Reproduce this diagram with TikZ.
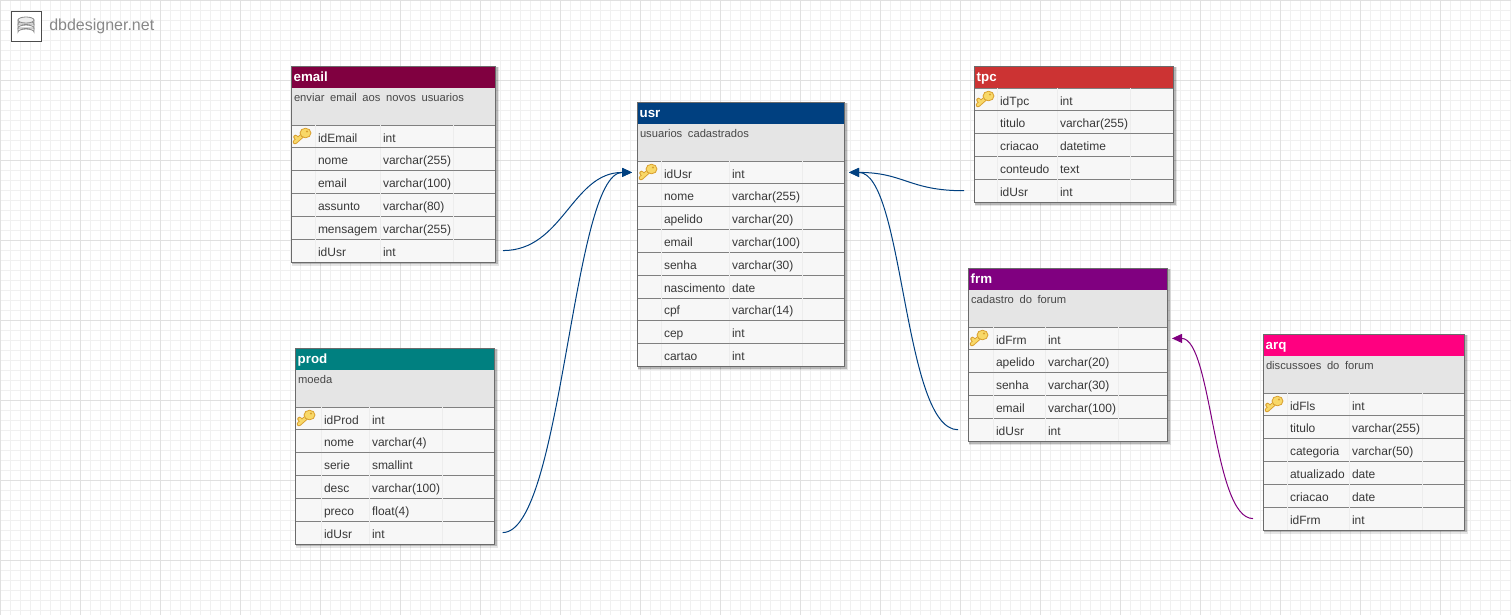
\documentclass[tikz,border=0pt]{standalone}
\usepackage{fontspec}
\setmainfont{Liberation Sans}
\newfontfamily\descfont[WordSpace=1.8]{Liberation Sans}
\usetikzlibrary{arrows.meta,positioning}
\definecolor{emailcol}{HTML}{800040}
\definecolor{usrcol}{HTML}{004080}
\definecolor{tpccol}{HTML}{CC3333}
\definecolor{frmcol}{HTML}{800080}
\definecolor{prodcol}{HTML}{008080}
\definecolor{arqcol}{HTML}{FF0080}
\definecolor{keyline}{HTML}{D9A030}
\definecolor{keyfill}{HTML}{F8D868}
\tikzset{
  headbox/.style={anchor=north west,inner sep=2pt,outer sep=0pt,minimum height=22*.75pt,text height=8.5pt,text depth=2.5pt,text=white,font=\bfseries\fontsize{10}{12}\selectfont,align=left},
  descbox/.style={anchor=north west,inner sep=0pt,outer sep=0pt,fill=black!10,minimum height=37*.75pt},
  rowbox/.style={anchor=north west,inner sep=0pt,outer sep=0pt,fill=black!3,draw=black!50,line width=.6pt,minimum height=22.83*.75pt},
  celltext/.style={anchor=base west,inner sep=0pt,outer sep=0pt,text=black!78,font=\fontsize{9}{11}\selectfont},
  desctext/.style={anchor=base west,inner sep=0pt,outer sep=0pt,text=black!72,font=\descfont\fontsize{8.4}{11}\selectfont},
  rel/.style={-{Triangle[length=10*.75pt,width=9*.75pt]},line width=.75pt},
  dbkey/.pic={
    \draw[draw=keyline,line width=3.4pt,line cap=round] (-7,6)--(2,-2) (-4,3.5)--(-6.5,1);
    \draw[draw=keyfill,line width=2pt,line cap=round] (-7,6)--(2,-2) (-4,3.5)--(-6.5,1);
    \draw[draw=keyline,fill=keyfill,line width=.6pt] (3.5,-3) ellipse (5.5 and 4.8);
    \fill[keyline] (5,-4.5) circle (1.1);
  }
}
% one table: id, x, y, width, colour, title, description, number of rows
\newcommand{\dbhead}[8]{
  \def\dbid{#1}\def\dbx{#2}\def\dby{#3}\def\dbw{#4}
  \def\dbdesc{#7}
  \ifx\dbdesc\empty \def\dbdh{0}\else \def\dbdh{37}\fi
  \pgfmathsetmacro{\dbtop}{#3+22+\dbdh}
  \pgfmathsetmacro{\dbbot}{\dbtop+#8*22.83}
  \fill[black,opacity=.1] (#2+1,#3+1) rectangle (#2+#4+4,\dbbot+4);
  \fill[black,opacity=.2] (#2+1,#3+1) rectangle (#2+#4+2.5,\dbbot+2.5);
  \node[headbox,fill=#5,minimum width=#4*.75pt,text width=#4*.75pt-4pt] (#1) at (#2,#3) {#6};
  \ifx\dbdesc\empty\else
    \node[descbox,minimum width=#4*.75pt] (#1-desc) at (#2,#3+22) {};
    \node[desctext] (#1-info) at (#2+3,#3+35) {#7};
  \fi
}
% rows of the table: x of name, x of type, list
\newcommand{\dbrows}[3]{
  \foreach \rname/\rtype [count=\ri] in {#3} {
    \pgfmathsetmacro{\rtop}{\dbtop+(\ri-1)*22.83}
    \node[rowbox,minimum width=\dbw*.75pt] (\dbid-\ri) at (\dbx,\rtop) {};
    \draw[black!7,line width=.5pt] (#1-3,\rtop) --++(0,22.83) (#2-3,\rtop) --++(0,22.83) (#2+70,\rtop) --++(0,22.83);
    \node[celltext] (\dbid-\ri-n) at (#1,\rtop+17) {\rname};
    \node[celltext] (\dbid-\ri-t) at (#2,\rtop+17) {\rtype};
  }
  \draw[black!58,line width=.6pt] (\dbx,\dby) rectangle (\dbx+\dbw,\dbbot);
  \path (\dbx+11,\dbtop+11) pic {dbkey};
}
\begin{document}
\begin{tikzpicture}[x=.75pt,y=-.75pt]
\useasboundingbox (0,0) rectangle (1511,615);
\fill[white] (0,0) rectangle (1511,615);
\foreach \gx in {0,10,...,1510} \draw[black!6,line width=.5pt] (\gx,0) -- (\gx,615);
\foreach \gy in {0,10,...,610} \draw[black!6,line width=.5pt] (0,\gy) -- (1511,\gy);
\foreach \gx in {0,80,...,1510} \draw[black!12,line width=.5pt] (\gx,0) -- (\gx,615);
\foreach \gy in {0,80,...,610} \draw[black!12,line width=.5pt] (0,\gy) -- (1511,\gy);

% logo
\node[draw=black!70,fill=white,line width=.9pt,minimum size=30*.75pt,inner sep=0pt,anchor=north west] (logo) at (11,11) {};
\node[anchor=west,inner sep=0pt,text=black!47,font=\fontsize{12}{14}\selectfont] (site) at (49,26) {dbdesigner.net};
\foreach \cy in {32,28,24} {
  \draw[black!45,fill=black!7,line width=.6pt] (18,\cy) arc[start angle=180,end angle=360,x radius=8,y radius=3] -- (34,\cy-4) -- (18,\cy-4) -- cycle;
}
\draw[black!45,fill=black!7,line width=.6pt] (26,20) ellipse (8 and 3);

\dbhead{email}{291}{66}{204}{emailcol}{email}{enviar email aos novos usuarios}{6}
\dbrows{318}{383}{idEmail/int,nome/varchar(255),email/varchar(100),assunto/varchar(80),mensagem/varchar(255),idUsr/int}

\dbhead{usr}{637}{102}{207}{usrcol}{usr}{usuarios cadastrados}{9}
\dbrows{664}{732}{idUsr/int,nome/varchar(255),apelido/varchar(20),email/varchar(100),senha/varchar(30),nascimento/date,cpf/varchar(14),cep/int,cartao/int}

\dbhead{tpc}{974}{66}{199}{tpccol}{tpc}{}{5}
\dbrows{1000}{1060}{idTpc/int,titulo/varchar(255),criacao/datetime,conteudo/text,idUsr/int}

\dbhead{frm}{968}{268}{199}{frmcol}{frm}{cadastro do forum}{5}
\dbrows{996}{1048}{idFrm/int,apelido/varchar(20),senha/varchar(30),email/varchar(100),idUsr/int}

\dbhead{prod}{295}{348}{199}{prodcol}{prod}{moeda}{6}
\dbrows{324}{372}{idProd/int,nome/varchar(4),serie/smallint,desc/varchar(100),preco/float(4),idUsr/int}

\dbhead{arq}{1263}{334}{201}{arqcol}{arq}{discussoes do forum}{6}
\dbrows{1290}{1352}{idFls/int,titulo/varchar(255),categoria/varchar(50),atualizado/date,criacao/date,idFrm/int}

\draw[rel,usrcol] ([xshift=6pt]email-6.east) .. controls +(60,0) and +(-60,0) .. ([xshift=-3.75pt]usr-1.west);
\draw[rel,usrcol] ([xshift=6.5pt]prod-6.east) .. controls +(60,0) and +(-60,0) .. ([xshift=-3.75pt]usr-1.west);
\draw[rel,usrcol] ([xshift=-7.5pt]tpc-5.west) .. controls +(-55,0) and +(55,0) .. ([xshift=3.75pt]usr-1.east);
\draw[rel,usrcol] ([xshift=-7.5pt]frm-5.west) .. controls +(-55,0) and +(55,0) .. ([xshift=3.75pt]usr-1.east);
\draw[rel,frmcol] ([xshift=-7.5pt]arq-6.west) .. controls +(-40,0) and +(40,0) .. ([xshift=3.75pt]frm-1.east);
\end{tikzpicture}
\end{document}
